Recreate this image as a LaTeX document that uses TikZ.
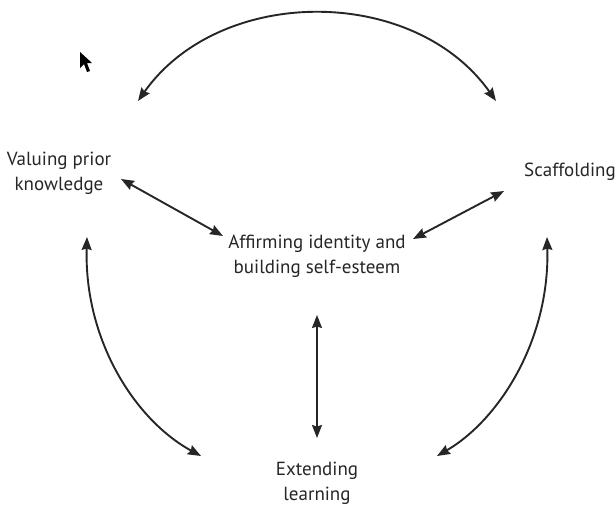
\documentclass[tikz,border=0pt]{standalone}
\usepackage{fontspec}
\setmainfont{PT Sans}
\usetikzlibrary{arrows.meta}
\begin{document}
\begin{tikzpicture}[x=1pt,y=-1pt,
  lbl/.style={align=center,font=\fontsize{19}{25}\selectfont,text=black!85,inner sep=0pt},
  conn/.style={line width=1.9pt,black!85,{Stealth[length=13pt,width=10pt,inset=1.5pt]}-{Stealth[length=13pt,width=10pt,inset=1.5pt]}}]
\useasboundingbox (0,0) rectangle (616,506);
% text nodes
\node[lbl] (val) at (59,173) {Valuing prior\\knowledge};
\node[lbl] (sca) at (570,172) {Scaffolding};
\node[lbl] (aff) at (317,256) {Affirming identity and\\building self-esteem};
\node[lbl] (ext) at (317,483) {Extending\\learning};
% connector end points
\coordinate (t1) at (138,101);
\coordinate (t2) at (496,101);
\coordinate (l1) at (87,237);
\coordinate (l2) at (201,456);
\coordinate (r1) at (547,237);
\coordinate (r2) at (437,456);
\coordinate (v1) at (317,315);
\coordinate (v2) at (317,438);
\coordinate (d1) at (121,179);
\coordinate (d2) at (223,236);
\coordinate (s1) at (504,191);
\coordinate (s2) at (413,239);
% connectors
\draw[conn] (t1) .. controls (220,-15) and (414,-15) .. (t2);
\draw[conn] (l1) .. controls (84,340) and (135,420) .. (l2);
\draw[conn] (r1) .. controls (550,340) and (499,420) .. (r2);
\draw[conn] (v1) -- (v2);
\draw[conn] (d1) -- (d2);
\draw[conn] (s1) -- (s2);
% mouse pointer
\fill[black] (80,52) -- (80,68) -- (84,64) -- (87,72) -- (90,71) -- (87,63) -- (92,63) -- cycle;
\end{tikzpicture}
\end{document}
